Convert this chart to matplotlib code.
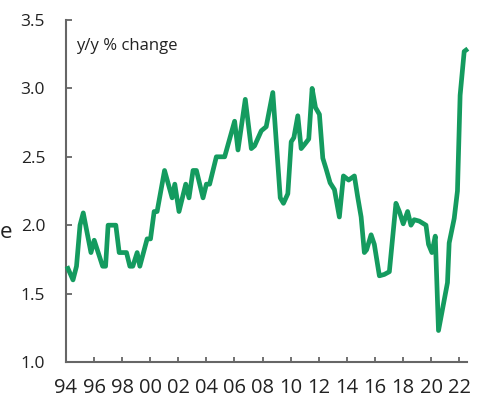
import matplotlib
matplotlib.use("Agg")
import matplotlib.pyplot as plt

# traced vertices of the series (decimal year, y/y % change)
years = [
    1994.07, 1994.50, 1994.75, 1995.00, 1995.23, 1995.78, 1996.01, 1996.61, 1996.82, 1997.00,
    1997.55, 1997.79, 1998.31, 1998.55, 1998.76, 1999.07, 1999.26, 1999.78, 2000.02, 2000.28,
    2000.49, 2001.02, 2001.56, 2001.75, 2002.05, 2002.53, 2002.76, 2003.05, 2003.29, 2003.76,
    2004.00, 2004.23, 2004.71, 2005.30, 2006.01, 2006.25, 2006.77, 2007.20, 2007.43, 2007.91,
    2008.26, 2008.73, 2009.26, 2009.49, 2009.80, 2010.04, 2010.23, 2010.51, 2010.75, 2010.99,
    2011.29, 2011.53, 2011.77, 2012.05, 2012.29, 2012.53, 2012.81, 2013.12, 2013.47, 2013.76,
    2014.13, 2014.54, 2014.77, 2015.02, 2015.25, 2015.41, 2015.73, 2015.96, 2016.32, 2016.67,
    2017.03, 2017.50, 2017.74, 2018.02, 2018.33, 2018.57, 2018.80, 2019.16, 2019.64, 2019.82,
    2020.06, 2020.30, 2020.53, 2021.17, 2021.29, 2021.65, 2021.88, 2022.07, 2022.36, 2022.62,
]
values = [
    1.70, 1.60, 1.70, 2.00, 2.09, 1.80, 1.89, 1.70, 1.70, 2.00,
    2.00, 1.80, 1.80, 1.70, 1.70, 1.80, 1.70, 1.90, 1.90, 2.10,
    2.10, 2.40, 2.20, 2.30, 2.10, 2.30, 2.20, 2.40, 2.40, 2.20,
    2.30, 2.30, 2.50, 2.50, 2.76, 2.55, 2.92, 2.56, 2.58, 2.69,
    2.72, 2.97, 2.20, 2.16, 2.23, 2.61, 2.64, 2.80, 2.56, 2.59,
    2.63, 3.00, 2.86, 2.81, 2.49, 2.41, 2.31, 2.26, 2.06, 2.36,
    2.33, 2.36, 2.21, 2.06, 1.80, 1.82, 1.93, 1.86, 1.63, 1.64,
    1.66, 2.16, 2.10, 2.01, 2.10, 2.00, 2.04, 2.03, 2.00, 1.86,
    1.80, 1.92, 1.23, 1.58, 1.87, 2.05, 2.25, 2.95, 3.27, 3.29,
]
xticks = list(range(1994, 2023, 2))
xticklabels = [f"{y % 100:02d}" for y in xticks]
yticks = [1.0, 1.5, 2.0, 2.5, 3.0, 3.5]

GREEN = "#149b5f"
AXIS = "#666666"
TEXT = "#222222"

plt.rcParams["font.family"] = ["Open Sans", "DejaVu Sans"]

fig = plt.figure(figsize=(4.83, 4.0), dpi=100)
ax = fig.add_axes([0.1366, 0.095, 0.966 - 0.1366, 0.95 - 0.095])

ax.plot(years, values, color=GREEN, linewidth=3.4, solid_joinstyle="round",
        solid_capstyle="butt", clip_on=False, zorder=3)

ax.set_xlim(1994, 2022.53)
ax.set_ylim(1.0, 3.5)
ax.set_xticks(xticks)
ax.set_xticklabels(xticklabels)
ax.set_yticks(yticks)
ax.set_yticklabels([f"{v:.1f}" for v in yticks])

for side in ("top", "right"):
    ax.spines[side].set_visible(False)
for side in ("left", "bottom"):
    ax.spines[side].set_color(AXIS)
    ax.spines[side].set_linewidth(1.5)

ax.tick_params(axis="y", direction="in", length=4, width=1.3, color=AXIS,
               labelsize=12.5, labelcolor=TEXT, pad=15)
ax.tick_params(axis="x", direction="in", length=3.5, width=1.3, color=AXIS,
               labelsize=14.5, labelcolor=TEXT, pad=11.5)

ax.text(0.025, 0.925, "y/y % change", transform=ax.transAxes, fontsize=12,
        color=TEXT, ha="left", va="center")
fig.text(0.025, 0.42, "e", fontsize=16, color=TEXT, ha="right", va="center")

fig.savefig("out.png", dpi=100)
